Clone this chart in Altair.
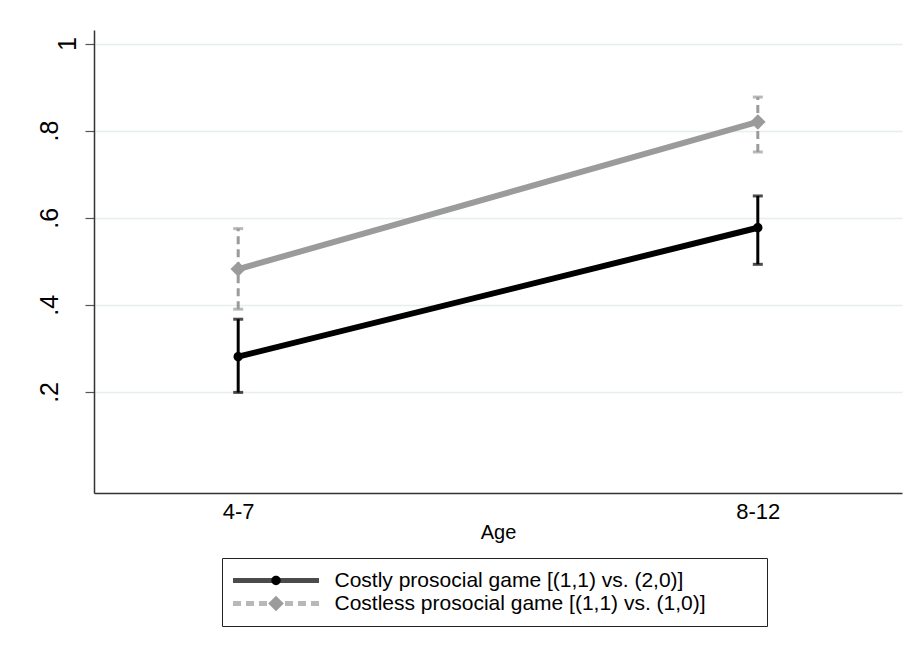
import altair as alt
import pandas as pd

# ---- data ----
age_groups = ["4-7", "8-12"]
series_names = [
    "Costly prosocial game [(1,1) vs. (2,0)]",
    "Costless prosocial game [(1,1) vs. (1,0)]",
]
costly_mean = [0.281, 0.577]
costly_lo = [0.199, 0.493]
costly_hi = [0.367, 0.650]
costless_mean = [0.482, 0.820]
costless_lo = [0.390, 0.751]
costless_hi = [0.575, 0.877]
y_ticks = [0.2, 0.4, 0.6, 0.8, 1.0]

rows = []
for name, means, los, his in [
    (series_names[0], costly_mean, costly_lo, costly_hi),
    (series_names[1], costless_mean, costless_lo, costless_hi),
]:
    for a, m, lo, hi in zip(age_groups, means, los, his):
        rows.append({"age": a, "series": name, "marker": name,
                     "mean": m, "lo": lo, "hi": hi})
df = pd.DataFrame(rows)

FONT = "Liberation Sans"
colors = ["#000000", "#9b9b9b"]
# marker shapes in the unit square [-1, 1]: small dot and diamond
DOT = "M-0.6,0A0.6,0.6,0,1,0,0.6,0A0.6,0.6,0,1,0,-0.6,0Z"
DIAMOND = "M-1,0L0,-1L1,0L0,1Z"
MARK_SIZE = 240

color_scale = alt.Scale(domain=series_names, range=colors)
dash_scale = alt.Scale(domain=series_names, range=[[1, 0], [8, 5]])
y_scale = alt.Scale(domain=[-0.032, 1.031], nice=False, zero=False)
x_scale = alt.Scale(type="point", domain=age_groups, padding=0.2775)

legend_line = alt.Legend(
    title=None, orient="none", legendX=128, legendY=528,
    symbolType="stroke", symbolSize=7396, symbolStrokeWidth=5,
    symbolOffset=-2.5,
    clipHeight=23, padding=11, rowPadding=0, labelOffset=13,
    labelFontSize=21, labelFont=FONT, labelColor="black", labelLimit=0,
)
legend_marker = alt.Legend(
    title=None, orient="none", legendX=128, legendY=528,
    clipHeight=23, padding=11, rowPadding=0, symbolOffset=32.5,
    symbolSize=MARK_SIZE,
    labelOffset=98, labelFontSize=21, labelFont=FONT, labelOpacity=0,
    labelLimit=0, strokeColor="#222222",
    symbolFillColor=alt.ExprRef("scale('color', datum.value)"),
    symbolStrokeWidth=0,
)

x_enc = alt.X(
    "age:N", scale=x_scale,
    axis=alt.Axis(title="Age", labelAngle=0, ticks=False, tickSize=0,
                  labelPadding=8, titlePadding=0, labelFontSize=22,
                  titleFontSize=20, labelFont=FONT, titleFont=FONT,
                  labelColor="black", titleColor="black", titleFontWeight="normal",
                  domainColor="#333333", domainWidth=1.5, grid=False),
)
y_axis = alt.Axis(
    values=y_ticks,
    labelExpr="datum.value == 1 ? '1' : replace(format(datum.value, '.1f'), '0.', '.')",
    labelAngle=270, labelAlign="center", labelBaseline="bottom",
    labelFontSize=25, labelFont=FONT, labelColor="black",
    labelPadding={"condition": {"test": "datum.value == 1", "value": 5}, "value": 23},
    tickSize=9, tickColor="#555555", tickWidth=1.2,
    domainColor="#333333", domainWidth=1.5,
    grid=True, gridColor="#e6eef0", gridWidth=1.5, title=None,
)

base = alt.Chart(df).encode(
    x=x_enc,
    color=alt.Color("series:N", scale=color_scale, legend=legend_line),
)

bars = base.mark_rule(strokeWidth=3).encode(
    y=alt.Y("lo:Q", scale=y_scale, axis=y_axis),
    y2="hi:Q",
    strokeDash=alt.StrokeDash("series:N", scale=dash_scale, legend=legend_line),
)
cap_lo = base.mark_tick(size=10, thickness=3, orient="horizontal").encode(
    y=alt.Y("lo:Q", scale=y_scale)
)
cap_hi = base.mark_tick(size=10, thickness=3, orient="horizontal").encode(
    y=alt.Y("hi:Q", scale=y_scale)
)
lines = base.mark_line(strokeWidth=6).encode(
    y=alt.Y("mean:Q", scale=y_scale),
)
points = base.mark_point(filled=True, opacity=1, size=MARK_SIZE).encode(
    y=alt.Y("mean:Q", scale=y_scale),
    shape=alt.Shape("marker:N", sort=series_names,
                    scale=alt.Scale(range=[DOT, DIAMOND]),
                    legend=legend_marker),
)

chart = alt.layer(bars, cap_lo, cap_hi, lines, points).properties(
    width=808, height=463,
    autosize=alt.AutoSizeParams(type="none"),
    padding={"left": 94, "top": 30, "right": 12, "bottom": 167},
    background="white",
).configure_view(stroke=None)

chart.save("out.html", embed_options={"renderer": "svg", "actions": False})
